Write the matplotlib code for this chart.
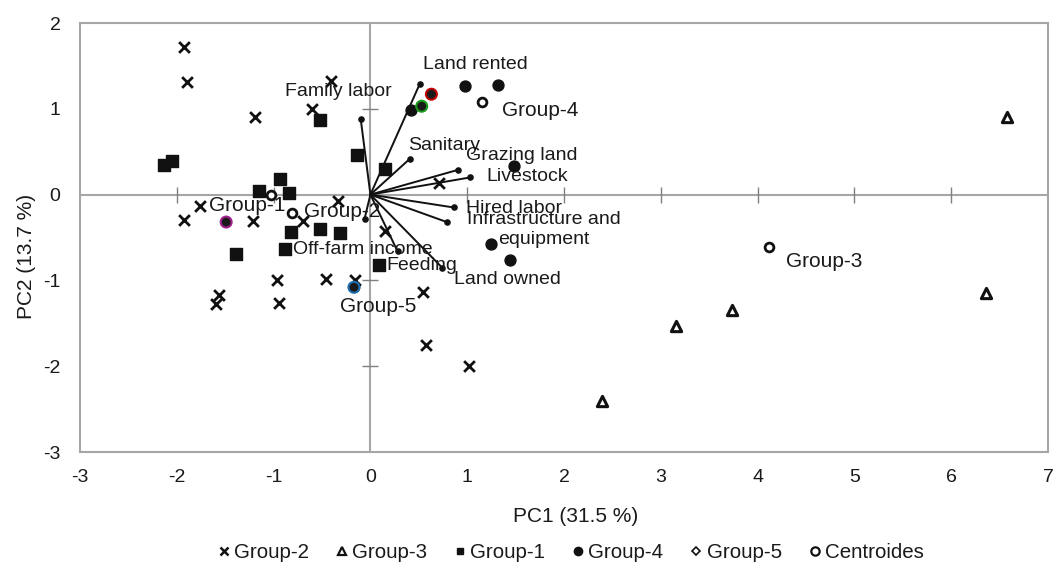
import numpy as np
import matplotlib
matplotlib.use("Agg")
import matplotlib.pyplot as plt
from matplotlib.lines import Line2D

plt.rcParams['font.family'] = ['Liberation Sans', 'DejaVu Sans']
plt.rcParams['axes.unicode_minus'] = False

# scores per group
g2_x = [-1.93, -1.89, -1.19, -0.41, -0.60, -1.76, -1.93, -1.21, -0.70, -0.33, 0.15,
        -0.97, -0.46, -0.16, -1.56, -1.59, -0.94, 0.54, 0.71, 0.57, 1.02]
g2_y = [1.72, 1.31, 0.91, 1.32, 1.00, -0.13, -0.30, -0.31, -0.31, -0.07, -0.42,
        -1.00, -0.98, -1.00, -1.17, -1.28, -1.26, -1.14, 0.14, -1.75, -2.00]

g3_x = [2.39, 3.16, 3.74, 6.36, 6.58]
g3_y = [-2.40, -1.53, -1.35, -1.15, 0.91]

g1_x = [-2.13, -2.05, -0.52, -0.14, 0.15, -0.93, -1.15, -0.84, -0.82, -0.52, -0.31, -1.39, -0.88, 0.09]
g1_y = [0.34, 0.39, 0.87, 0.46, 0.30, 0.18, 0.04, 0.02, -0.44, -0.40, -0.45, -0.69, -0.63, -0.82]

g4_x = [0.42, 0.98, 1.32, 1.48, 1.25, 1.44]
g4_y = [0.99, 1.26, 1.28, 0.33, -0.58, -0.76]

g5_x = [0.63, 0.53, -1.49, -0.17]
g5_y = [1.17, 1.03, -0.32, -1.08]

cent_names = ['Group-1', 'Group-2', 'Group-3', 'Group-4', 'Group-5']
cent_x = [-1.03, -0.81, 4.12, 1.15, -0.17]
cent_y = [-0.01, -0.22, -0.61, 1.08, -1.08]

# loadings (vector ends)
var_names = ['Family labor', 'Land rented', 'Sanitary', 'Grazing land', 'Livestock',
             'Hired labor', 'Infrastructure and\nequipment', 'Off-farm income',
             'Feeding', 'Land owned']
var_x = [-0.10, 0.51, 0.41, 0.91, 1.03, 0.86, 0.79, -0.06, 0.28, 0.74]
var_y = [0.88, 1.29, 0.42, 0.29, 0.20, -0.15, -0.32, -0.28, -0.66, -0.85]

# layout: where the labels sit
var_lab_pos = [(-0.33, 1.20), (1.08, 1.52), (0.76, 0.57), (1.56, 0.46), (1.62, 0.21),
               (1.48, -0.16), (1.79, -0.41), (-0.08, -0.64), (0.53, -0.83), (1.42, -0.99)]
cent_lab_pos = [(-1.27, -0.13), (-0.29, -0.20), (4.69, -0.78), (1.75, 0.98), (0.08, -1.30)]
g5_edges = ['#c00000', '#1a9a1a', '#a0208a', '#1f6fb0']

txt = '#1a1a1a'
gray = '#a6a6a6'

fig = plt.figure(figsize=(10.58, 5.63), dpi=100)
ax = fig.add_axes([80/1058, 1-452/563, 968/1058, 429/563])
ax.set_xlim(-3, 7)
ax.set_ylim(-3, 2)

for s in ax.spines.values():
    s.set_color(gray)
    s.set_linewidth(1.5)

ax.axhline(0, color=gray, lw=1.5, zorder=1)
ax.axvline(0, color=gray, lw=1.5, zorder=1)
xt = np.arange(-2, 7)
yt = np.arange(-2, 2)
ax.plot(xt[xt != 0], np.zeros(len(xt) - 1), ls='none', marker='|', ms=11, mew=1.0, color='#808080', zorder=1)
ax.plot(np.zeros(len(yt) - 1), yt[yt != 0], ls='none', marker='_', ms=11, mew=1.0, color='#808080', zorder=1)

ax.set_xticks(np.arange(-3, 8))
ax.set_yticks(np.arange(-3, 3))
ax.tick_params(length=0, labelsize=14, colors=txt)
ax.tick_params(axis='x', pad=12)
ax.tick_params(axis='y', pad=14)

# vectors
for vx, vy in zip(var_x, var_y):
    ax.plot([0, vx], [0, vy], color='#111111', lw=1.4, zorder=3)
ax.scatter(var_x, var_y, s=14, color='#111111', zorder=3)
for name, (lx, ly) in zip(var_names, var_lab_pos):
    ax.text(lx, ly, name, fontsize=14, color=txt, ha='center', va='center', zorder=6)

ax.scatter(g2_x, g2_y, marker='x', s=60, color='#111111', linewidths=2, zorder=4)
ax.scatter(g3_x, g3_y, marker='^', s=55, facecolor='white', edgecolor='#111111', linewidths=2.2, zorder=4)
ax.scatter(g1_x, g1_y, marker='s', s=70, color='#111111', zorder=4)
ax.scatter(g4_x, g4_y, marker='o', s=62, color='#111111', zorder=4)
ax.scatter(cent_x, cent_y, marker='o', s=40, facecolor='white', edgecolor='#111111', linewidths=2, zorder=4)
ax.scatter(g5_x, g5_y, marker='o', s=62, facecolor='#1a1a1a', edgecolors=g5_edges, linewidths=1.5, zorder=5)
for name, (lx, ly) in zip(cent_names, cent_lab_pos):
    ax.text(lx, ly, name, fontsize=15, color=txt, ha='center', va='center', zorder=6)

ax.set_xlabel('PC1 (31.5 %)', fontsize=15, color=txt, labelpad=15)
ax.set_ylabel('PC2 (13.7 %)', fontsize=15, color=txt, labelpad=5)
ax.xaxis.label.set_x(0.512)
ax.yaxis.label.set_y(0.455)

handles = [
    Line2D([], [], ls='none', marker='x', ms=6, mew=1.8, color='#111111'),
    Line2D([], [], ls='none', marker='^', ms=6, mew=1.6, mfc='white', color='#111111'),
    Line2D([], [], ls='none', marker='s', ms=5, color='#111111'),
    Line2D([], [], ls='none', marker='o', ms=6, color='#111111'),
    Line2D([], [], ls='none', marker='D', ms=4.5, mew=1.2, mfc='white', color='#111111'),
    Line2D([], [], ls='none', marker='o', ms=6, mew=1.6, mfc='white', color='#111111'),
]
labels = ['Group-2', 'Group-3', 'Group-1', 'Group-4', 'Group-5', 'Centroides']
fig.legend(handles, labels, loc='center', bbox_to_anchor=(0.5394, 1-553/563), ncol=6,
           frameon=False, fontsize=14.8, handlelength=0.6, handletextpad=0.2, columnspacing=1.3,
           borderpad=0.2, labelcolor=txt)

fig.savefig('out.png', dpi=100)
